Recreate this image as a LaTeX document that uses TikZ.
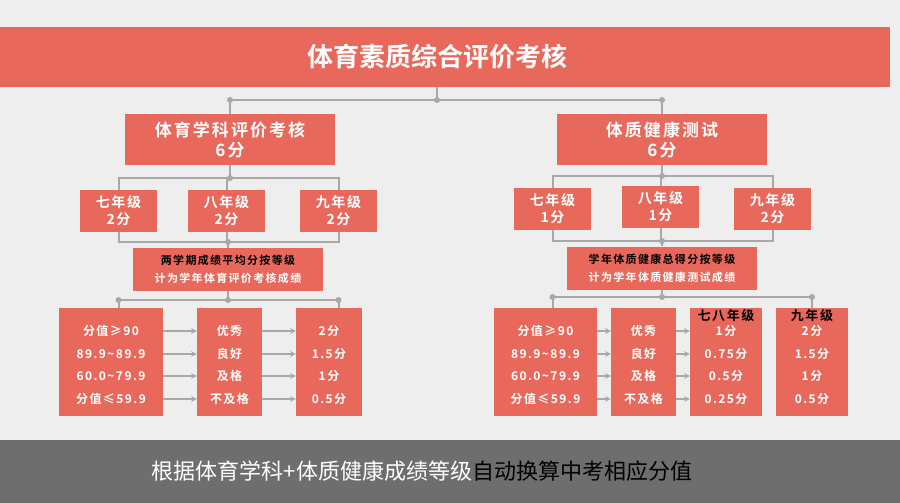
\documentclass[tikz,border=0pt]{standalone}
\usepackage{fontspec}
\setmainfont{Noto Sans CJK SC}[BoldFont={Noto Sans CJK SC Bold}]
\usetikzlibrary{positioning}
\definecolor{salmon}{HTML}{E8695B}
\definecolor{bggray}{HTML}{EEEEEE}
\definecolor{bandgray}{HTML}{6E6E6E}
\definecolor{linegray}{HTML}{A8A8A8}
\newcommand{\spaced}{\addfontfeature{LetterSpace=12}}
\tikzset{
  box/.style={fill=salmon,text=white,font=\bfseries,align=center,inner sep=0pt},
  wire/.style={draw=linegray,line width=2pt},
  arr/.style={draw=linegray,line width=1.5pt,->,>=stealth},
  dot/.style={circle,fill=linegray,inner sep=0pt,minimum size=6pt},
  row/.style={text=white,font=\bfseries\fontsize{12}{14}\selectfont\spaced}
}
\begin{document}
\begin{tikzpicture}[x=1pt,y=-1pt]
	\fill[bggray] (0,0) rectangle (900,503);
	\useasboundingbox (0,0) rectangle (900,503);

	% title and bottom band
	\fill[salmon] (0,27) rectangle (890,87);
	\node[text=white,font=\bfseries\fontsize{26}{30}\selectfont] (title) at (437,57) {体育素质综合评价考核};
	\fill[bandgray] (0,440) rectangle (900,503);
	\node[font=\fontsize{22}{26}\selectfont] (foot) at (422,471) {\textcolor{white}{根据体育学科+体质健康成绩等级}自动换算中考相应分值};

	% main boxes
	\node[box,minimum width=210pt,minimum height=51pt,font=\bfseries\fontsize{17}{20}\selectfont\spaced] (pe) at (230,139.5) {体育学科评价考核\\6分};
	\node[box,minimum width=210pt,minimum height=51pt,font=\bfseries\fontsize{17}{20}\selectfont\spaced] (fit) at (662,139.5) {体质健康测试\\6分};

	% grade boxes
	\tikzset{grade/.style={box,minimum width=77pt,minimum height=42pt,font=\bfseries\fontsize{14}{17}\selectfont\spaced}}
	\node[grade] (pa) at (118.5,211) {七年级\\2分};
	\node[grade] (pb) at (226.5,211) {八年级\\2分};
	\node[grade] (pc) at (338.5,211) {九年级\\2分};
	\node[grade] (fa) at (552.5,209) {七年级\\1分};
	\node[grade] (fb) at (660.5,207) {八年级\\1分};
	\node[grade] (fc) at (772.5,209) {九年级\\2分};

	% summary boxes
	\tikzset{summ/.style={box,minimum width=190pt,minimum height=43pt,font=\bfseries\fontsize{11}{18}\selectfont\spaced}}
	\node[summ] (ps) at (228,269.5) {\textcolor{black}{两学期成绩平均分按等级}\\计为学年体育评价考核成绩};
	\node[summ] (fs) at (662,268) {\textcolor{black}{学年体质健康总得分按等级}\\计为学年体质健康测试成绩};

	% tables
	\tikzset{tab/.style={fill=salmon,minimum height=108pt,inner sep=0pt}}
	\node[tab,minimum width=104pt] (p1) at (111,362) {};
	\node[tab,minimum width=65pt] (p2) at (229.5,362) {};
	\node[tab,minimum width=66pt] (p3) at (329,362) {};
	\node[tab,minimum width=103pt] (f1) at (545.5,362) {};
	\node[tab,minimum width=65pt] (f2) at (643.5,362) {};
	\node[tab,minimum width=72pt] (f3) at (726,362) {};
	\node[tab,minimum width=72pt] (f4) at (812,362) {};

	\foreach \n/\y/\a/\b/\c/\d/\e in {1/331/分值≥90/优秀/2分/1分/2分,
	    2/354/89.9\textasciitilde 89.9/良好/1.5分/0.75分/1.5分,
	    3/376/60.0\textasciitilde 79.9/及格/1分/0.5分/1分,
	    4/399/分值≤59.9/不及格/0.5分/0.25分/0.5分} {
		\node[row] (pa\n) at (111,\y) {\a};
		\node[row] (pb\n) at (229.5,\y) {\b};
		\node[row] (pc\n) at (329,\y) {\c};
		\node[row] (fa\n) at (545.5,\y) {\a};
		\node[row] (fb\n) at (643.5,\y) {\b};
		\node[row] (fc\n) at (726,\y) {\d};
		\node[row] (fd\n) at (812,\y) {\e};
		\draw[arr] (p1.east |- pa\n) -- (p2.west |- pa\n);
		\draw[arr] (p2.east |- pa\n) -- (p3.west |- pa\n);
		\draw[arr] (f1.east |- fa\n) -- (f2.west |- fa\n);
		\draw[arr] (f2.east |- fa\n) -- (f3.west |- fa\n);
	}
	\node[font=\bfseries\fontsize{13}{15}\selectfont\spaced] (fch) at (726,316) {七八年级};
	\node[font=\bfseries\fontsize{13}{15}\selectfont\spaced] (fdh) at (812,316) {九年级};

	% connectors
	\coordinate (tj) at (437,100);
	\draw[wire] (437,87) -- (tj);
	\draw[wire] (pe.north) |- (tj) -| (fit.north);
	\node[dot] at (pe.north |- tj) {};
	\node[dot] at (tj) {};
	\node[dot] at (fit.north |- tj) {};

	% left branch
	\draw[wire] (pe.south) -- (pe.south |- 0,178);
	\draw[wire] (pa.north) -- (pa.north |- 0,178) -- (pc.north |- 0,178) -- (pc.north);
	\draw[wire] (pb.north) -- (pb.north |- 0,178);
	\node[dot] at (pe.south |- 0,178) {};
	\draw[wire] (pa.south) |- (ps.north |- 0,242) -| (pc.south);
	\draw[wire] (pb.south) -- (pb.south |- 0,242);
	\draw[wire] (ps.north |- 0,242) -- (ps.north);
	\node[dot] at (ps.north |- 0,242) {};
	\draw[wire] (p1.north -| pa) |- (ps.south |- 0,300) -| (p3.north -| pc);
	\draw[wire] (ps.south) -- (ps.south |- 0,300);
	\node[dot] at (pa |- 0,300) {};
	\node[dot] at (ps.south |- 0,300) {};
	\node[dot] at (pc |- 0,300) {};

	% right branch
	\draw[wire] (fit.south) -- (fit.south |- 0,176);
	\draw[wire] (fa.north) -- (fa.north |- 0,176) -- (fc.north |- 0,176) -- (fc.north);
	\draw[wire] (fb.north) -- (fb.north |- 0,176);
	\node[dot] at (fit.south |- 0,176) {};
	\draw[wire] (fa.south) |- (fs.north |- 0,241) -| (fc.south);
	\draw[wire] (fb.south) -- (fb.south |- 0,241);
	\draw[wire] (fs.north |- 0,241) -- (fs.north);
	\node[dot] at (fs.north |- 0,241) {};
	\draw[wire] (f1.north -| fa) |- (fs.south |- 0,297) -| (f4.north);
	\draw[wire] (fs.south) -- (fs.south |- 0,297);
	\node[dot] at (fa |- 0,297) {};
	\node[dot] at (fs.south |- 0,297) {};
	\node[dot] at (f4.north |- 0,297) {};
\end{tikzpicture}
\end{document}
